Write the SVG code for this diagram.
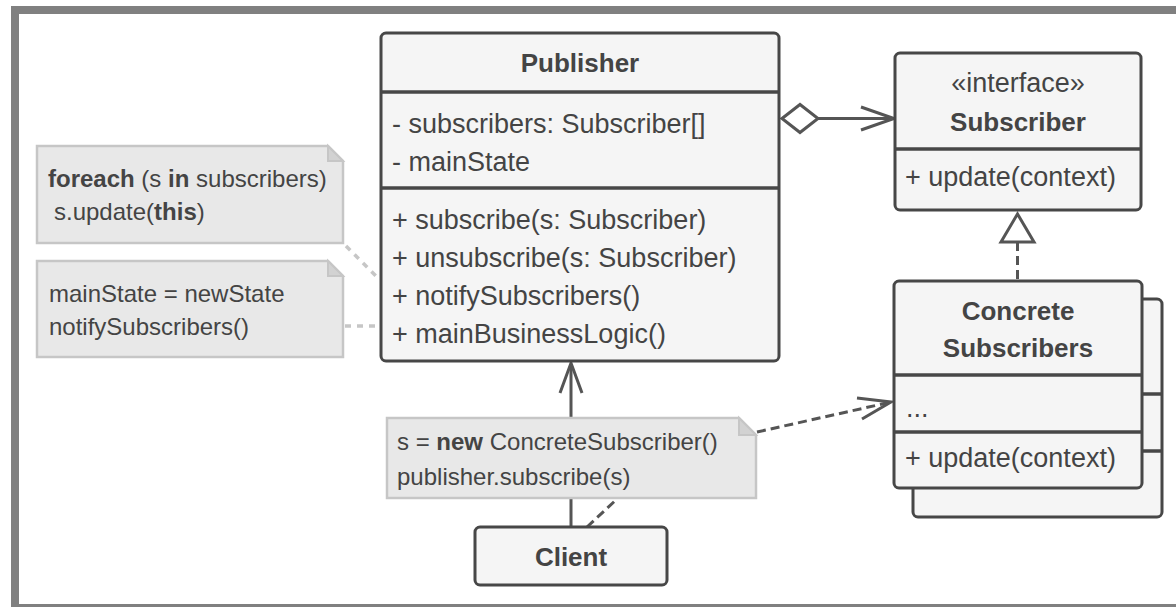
<svg xmlns="http://www.w3.org/2000/svg" width="1176" height="607" viewBox="0 0 1176 607">
<style>
.box{fill:#f5f5f5;stroke:#474747;stroke-width:3}
.div{stroke:#474747;stroke-width:3.5;fill:none}
.note{fill:#e8e8e8;stroke:#c6c6c6;stroke-width:2.5}
.fold{fill:#d2d2d2;stroke:#c6c6c6;stroke-width:2}
.t{font-family:"Liberation Sans",Arial,sans-serif;font-size:27px;fill:#444}
.b{font-family:"Liberation Sans",Arial,sans-serif;font-size:26px;font-weight:bold;fill:#444}
.n{font-family:"Liberation Sans",Arial,sans-serif;font-size:24px;fill:#444}
.c{text-anchor:middle}
.ln{stroke:#555;stroke-width:3;fill:none}
.dash{stroke:#555;stroke-width:3;fill:none;stroke-dasharray:9 5}
.nd{stroke:#c6c6c6;stroke-width:3.5;fill:none;stroke-dasharray:6 6}
</style>
<rect x="0" y="0" width="1176" height="607" fill="#fff"/>
<rect x="15" y="10" width="1200" height="598" fill="none" stroke="#808080" stroke-width="8"/>

<g id="connectors">
  <line class="nd" x1="346" y1="246" x2="376" y2="276"/>
  <line class="nd" x1="345" y1="326" x2="380" y2="326"/>
  <line class="ln" x1="818" y1="118.5" x2="893" y2="118.5"/>
  <polyline class="ln" points="861,107 894,118.5 861,130"/>
  <polygon points="782,118.5 800,104.5 818,118.5 800,132.5" fill="#fff" stroke="#555" stroke-width="3"/>
  <line class="dash" x1="1017.5" y1="242" x2="1017.5" y2="281"/>
  <polygon points="1017.5,214 1001,242 1034,242" fill="#fff" stroke="#555" stroke-width="3"/>
  <line class="ln" x1="571" y1="527" x2="571" y2="364"/>
  <polyline class="ln" points="560,393 571,363 582,393"/>
  <line class="dash" x1="587" y1="527" x2="617" y2="499"/>
  <line class="dash" x1="757" y1="432" x2="889" y2="402.5"/>
  <polyline class="ln" points="857,398 891,402 862,419"/>
</g>

<g id="publisher">
  <rect class="box" x="381" y="33" width="398" height="328" rx="5"/>
  <line class="div" x1="381" y1="92" x2="779" y2="92"/>
  <line class="div" x1="381" y1="188" x2="779" y2="188"/>
  <text class="b c" x="580" y="72">Publisher</text>
  <text class="t" x="392" y="133">- subscribers: Subscriber[]</text>
  <text class="t" x="392" y="171">- mainState</text>
  <text class="t" x="392" y="229">+ subscribe(s: Subscriber)</text>
  <text class="t" x="392" y="267">+ unsubscribe(s: Subscriber)</text>
  <text class="t" x="392" y="305">+ notifySubscribers()</text>
  <text class="t" x="392" y="343">+ mainBusinessLogic()</text>
</g>

<g id="subscriber">
  <rect class="box" x="895" y="53" width="246" height="157" rx="5"/>
  <line class="div" x1="895" y1="149" x2="1141" y2="149"/>
  <text class="t c" x="1018" y="92">«interface»</text>
  <text class="b c" x="1018" y="131">Subscriber</text>
  <text class="t" x="905" y="186">+ update(context)</text>
</g>

<g id="concrete-subscribers">
  <rect class="box" x="913" y="299" width="249" height="218" rx="5"/>
  <line class="div" x1="1141" y1="394" x2="1162" y2="394"/>
  <line class="div" x1="1141" y1="451" x2="1162" y2="451"/>
  <rect class="box" x="894" y="281" width="248" height="207" rx="5"/>
  <line class="div" x1="894" y1="375" x2="1142" y2="375"/>
  <line class="div" x1="894" y1="432" x2="1142" y2="432"/>
  <text class="b c" x="1018" y="320">Concrete</text>
  <text class="b c" x="1018" y="357">Subscribers</text>
  <text class="t" x="906" y="417">...</text>
  <text class="t" x="905" y="467">+ update(context)</text>
</g>

<g id="note-notify">
  <path class="note" d="M37,146 H328 L343,161 V243 H37 Z"/>
  <path class="fold" d="M328,146 V161 H343 Z"/>
  <text class="n" x="48" y="187"><tspan font-weight="bold">foreach</tspan> (s <tspan font-weight="bold">in</tspan> subscribers)</text>
  <text class="n" x="54" y="220">s.update(<tspan font-weight="bold">this</tspan>)</text>
</g>

<g id="note-business">
  <path class="note" d="M37,261 H328 L343,276 V357 H37 Z"/>
  <path class="fold" d="M328,261 V276 H343 Z"/>
  <text class="n" x="49" y="302">mainState = newState</text>
  <text class="n" x="49" y="335">notifySubscribers()</text>
</g>

<g id="note-client">
  <path class="note" d="M387,418 H739 L756,435 V498 H387 Z"/>
  <path class="fold" d="M739,418 V435 H756 Z"/>
  <text class="n" x="397" y="450">s = <tspan font-weight="bold">new</tspan> ConcreteSubscriber()</text>
  <text class="n" x="397" y="485">publisher.subscribe(s)</text>
</g>

<g id="client">
  <rect class="box" x="475" y="527" width="192" height="58" rx="5"/>
  <text class="b c" x="571" y="566">Client</text>
</g>
</svg>
